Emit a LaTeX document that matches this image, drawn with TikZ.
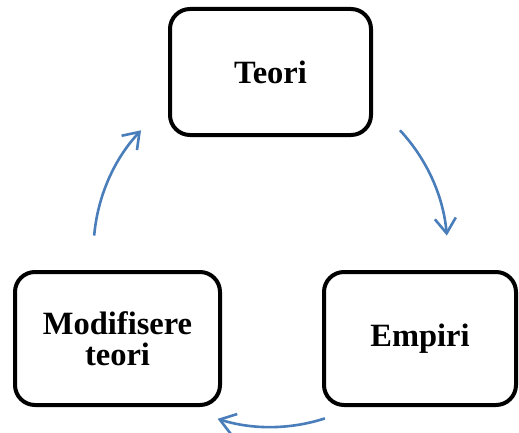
\documentclass[tikz,border=0pt]{standalone}
\usepackage{fontspec}
\setmainfont{Liberation Serif}
\usetikzlibrary{arrows.meta}
\definecolor{cyclecol}{HTML}{4A7EBB}
\tikzset{
  stage/.style={draw=black, line width=4pt, rounded corners=20pt, fill=white,
    align=center, inner sep=0pt,
    font=\fontsize{32.5}{31}\selectfont\bfseries},
  cyclearrow/.style={draw=cyclecol, line width=2.6pt,
    -{Straight Barb[length=15pt,width=21pt,line width=2.6pt]}}
}
\begin{document}
\begin{tikzpicture}[x=1pt,y=1pt]
  \useasboundingbox (0,0) rectangle (519,432);
  % the three stages of the cycle
  \node[stage, minimum width=201pt, minimum height=126pt] (teori) at (270.5,360) {Teori};
  \node[stage, minimum width=205pt, minimum height=133pt] (modif) at (117.5,93.5) {Modifisere\\teori};
  \node[stage, minimum width=192pt, minimum height=133pt] (empiri) at (420,93.5) {Empiri};
  % circular arrows around a common centre
  \coordinate (c) at (270.5,181);
  \coordinate (a1) at ([shift={(43:177)}]c);
  \coordinate (a2) at ([shift={(-72:176)}]c);
  \coordinate (a3) at ([shift={(175:177)}]c);
  \draw[cyclearrow] (a1) arc[start angle=43, end angle=5, radius=177];
  \draw[cyclearrow] (a2) arc[start angle=-72, end angle=-107.5, radius=176];
  \draw[cyclearrow] (a3) arc[start angle=175, end angle=137, radius=177];
\end{tikzpicture}
\end{document}
